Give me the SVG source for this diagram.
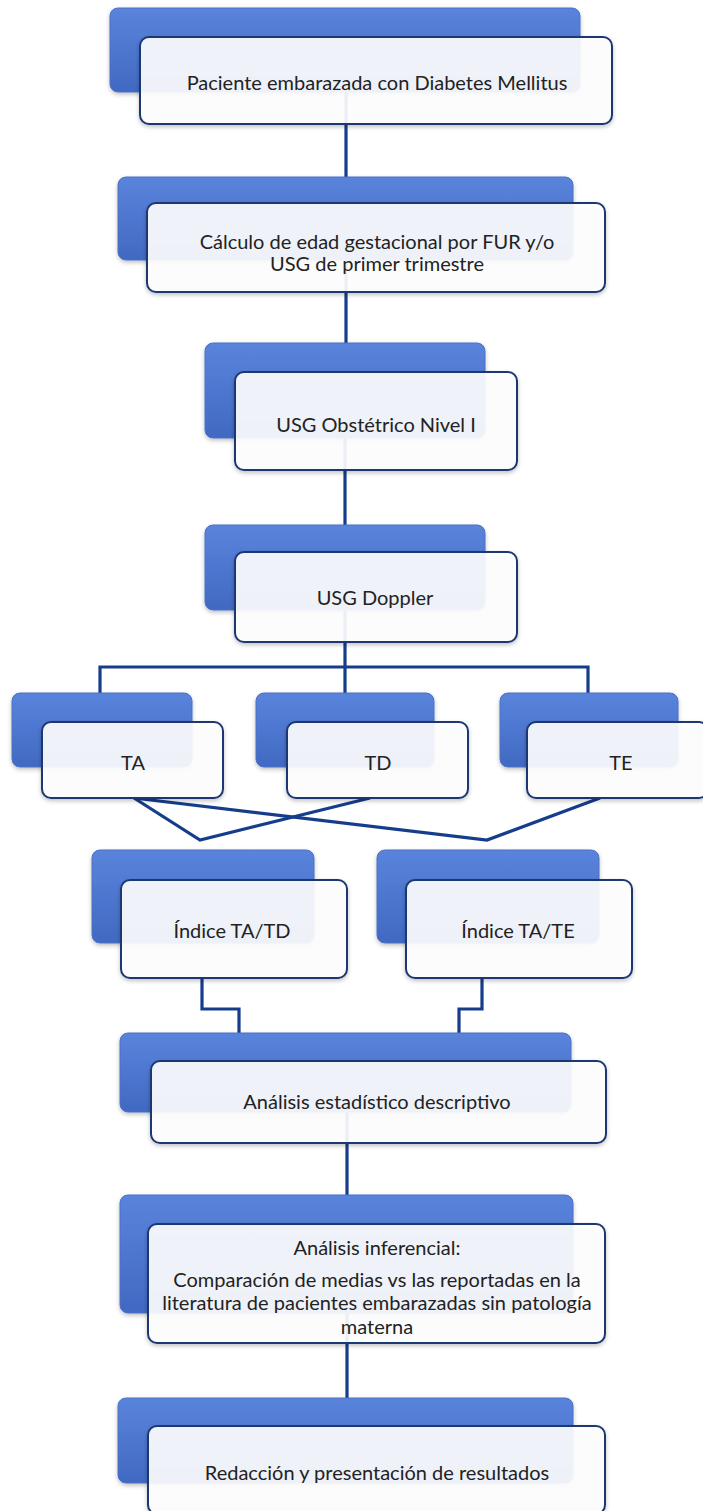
<svg xmlns="http://www.w3.org/2000/svg" width="703" height="1511" viewBox="0 0 703 1511">
<defs>
<linearGradient id="blueGrad" x1="0" y1="0" x2="0" y2="1">
<stop offset="0" stop-color="#5a84dc"/>
<stop offset="1" stop-color="#4169c2"/>
</linearGradient>
<filter id="shadow" x="-10%" y="-10%" width="120%" height="130%">
<feDropShadow dx="0" dy="2" stdDeviation="2" flood-color="#000" flood-opacity="0.25"/>
</filter>
<style>
.back{fill:url(#blueGrad);stroke:#4a70c6;stroke-width:1;filter:url(#shadow);}
.front{fill:#ffffff;fill-opacity:0.9;stroke:#1e3770;stroke-width:2;filter:url(#shadow);}
.conn{fill:none;stroke:#163d8c;stroke-width:3.2;stroke-linejoin:miter;}
.lbl{font-family:Lato,"Liberation Sans",sans-serif;font-size:20px;fill:#222222;text-anchor:middle;}
</style>
</defs>
<rect width="703" height="1511" fill="#ffffff"/>
<g id="connectors">
<line class="conn" x1="346" y1="83" x2="346" y2="177"/>
<line class="conn" x1="346" y1="250" x2="346" y2="343"/>
<line class="conn" x1="345" y1="425" x2="345" y2="525"/>
<path class="conn" d="M345 600 V667 M100 693 V667 H588 V693 M345 667 V693"/>
<path class="conn" d="M134 798 L200 840 L370 798"/>
<path class="conn" d="M134 798 L487 840 L600 798"/>
<path class="conn" d="M202 978 V1009 H239 V1033"/>
<path class="conn" d="M482 978 V1009 H459 V1033"/>
<line class="conn" x1="347" y1="1100" x2="347" y2="1197"/>
<line class="conn" x1="347" y1="1300" x2="347" y2="1398"/>
</g>
<g id="n1">
<rect class="back" x="110" y="8" width="470" height="84" rx="8"/>
<rect class="front" x="140" y="37" width="472" height="87" rx="9"/>
<text class="lbl" x="377" y="90">Paciente embarazada con Diabetes Mellitus</text>
</g>
<g id="n2">
<rect class="back" x="118" y="177" width="455" height="83" rx="8"/>
<rect class="front" x="147" y="203" width="458" height="89" rx="9"/>
<text class="lbl" x="377" y="249">Cálculo de edad gestacional por FUR y/o</text>
<text class="lbl" x="377" y="271">USG de primer trimestre</text>
</g>
<g id="n3">
<rect class="back" x="205" y="343" width="280" height="95" rx="8"/>
<rect class="front" x="235" y="372" width="282" height="98" rx="9"/>
<text class="lbl" x="376" y="432">USG Obstétrico Nivel I</text>
</g>
<g id="n4">
<rect class="back" x="205" y="525" width="280" height="85" rx="8"/>
<rect class="front" x="235" y="552" width="282" height="90" rx="9"/>
<text class="lbl" x="375" y="605">USG Doppler</text>
</g>
<g id="nTA">
<rect class="back" x="12" y="693" width="180" height="74" rx="8"/>
<rect class="front" x="42" y="722" width="181" height="76" rx="9"/>
<text class="lbl" x="133" y="770">TA</text>
</g>
<g id="nTD">
<rect class="back" x="256" y="693" width="178" height="74" rx="8"/>
<rect class="front" x="287" y="722" width="181" height="76" rx="9"/>
<text class="lbl" x="378" y="770">TD</text>
</g>
<g id="nTE">
<rect class="back" x="500" y="693" width="178" height="74" rx="8"/>
<rect class="front" x="527" y="722" width="181" height="76" rx="9"/>
<text class="lbl" x="621" y="770">TE</text>
</g>
<g id="nIdxTD">
<rect class="back" x="92" y="850" width="222" height="93" rx="8"/>
<rect class="front" x="121" y="880" width="226" height="98" rx="9"/>
<text class="lbl" x="232" y="938">Índice TA/TD</text>
</g>
<g id="nIdxTE">
<rect class="back" x="377" y="850" width="222" height="93" rx="8"/>
<rect class="front" x="406" y="880" width="226" height="98" rx="9"/>
<text class="lbl" x="518" y="938">Índice TA/TE</text>
</g>
<g id="nEst">
<rect class="back" x="120" y="1033" width="451" height="79" rx="8"/>
<rect class="front" x="151" y="1061" width="455" height="82" rx="9"/>
<text class="lbl" x="377" y="1109">Análisis estadístico descriptivo</text>
</g>
<g id="nInf">
<rect class="back" x="120" y="1195" width="453" height="118" rx="8"/>
<rect class="front" x="148" y="1224" width="457" height="119" rx="9"/>
<text class="lbl" x="377" y="1255">Análisis inferencial:</text>
<text class="lbl" x="377" y="1287">Comparación de medias vs las reportadas en la</text>
<text class="lbl" x="377" y="1310">literatura de pacientes embarazadas sin patología</text>
<text class="lbl" x="377" y="1334">materna</text>
</g>
<g id="nRed">
<rect class="back" x="118" y="1398" width="455" height="85" rx="8"/>
<rect class="front" x="148" y="1426" width="457" height="88" rx="9"/>
<text class="lbl" x="377" y="1480">Redacción y presentación de resultados</text>
</g>
</svg>
